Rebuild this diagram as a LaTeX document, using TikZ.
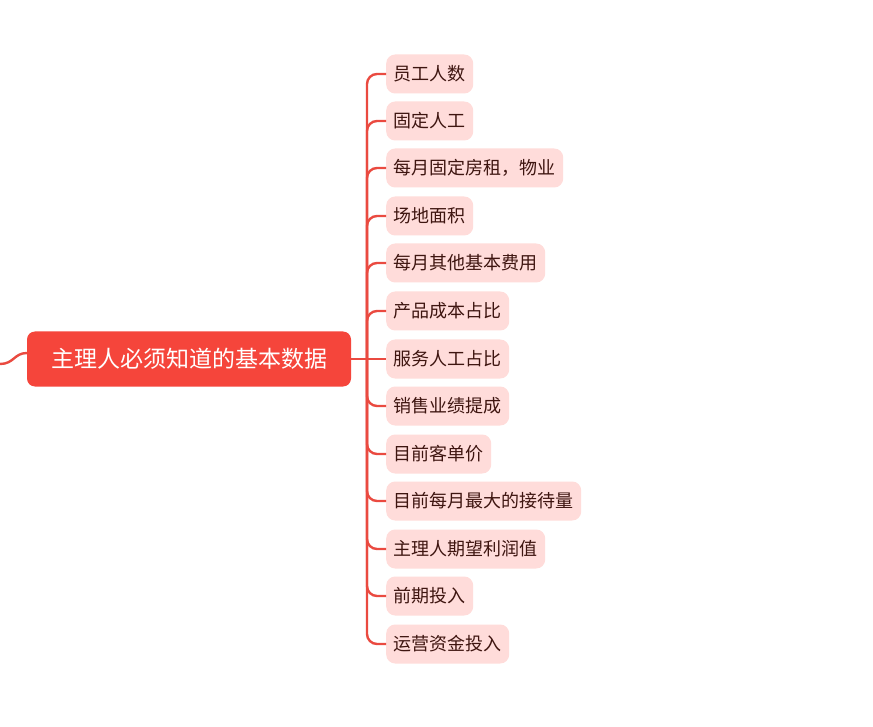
\documentclass[tikz,border=0pt]{standalone}
\usepackage{fontspec}
\setmainfont{Noto Sans CJK SC}
\definecolor{mainred}{HTML}{F5453B}
\definecolor{linered}{HTML}{EA4A40}
\definecolor{childfill}{HTML}{FFDCDA}
\definecolor{childtext}{HTML}{3E1510}
\begin{document}
\begin{tikzpicture}[x={(1pt,0)},y={(0,-1pt)},
  mainbox/.style={fill=mainred,text=white,rounded corners=8pt,minimum width=324pt,minimum height=55pt,inner sep=0pt,font=\fontsize{23}{26}\selectfont},
  childbox/.style={fill=childfill,text=childtext,rounded corners=9pt,minimum height=39pt,inner xsep=7.5pt,inner ysep=0pt,anchor=west,font=\fontsize{18}{20}\selectfont},
  conn/.style={draw=linered,line width=2.4pt,rounded corners=10pt}]
\useasboundingbox (0,0) rectangle (873,727);
\fill[white] (0,0) rectangle (873,727);
\node[mainbox] (main) at (189,359) {主理人必须知道的基本数据};
\coordinate (lft) at (0,364);
\coordinate (mw) at (27,353);
\draw[draw=linered,line width=2.4pt] (lft) .. controls (14,364) and (14,353) .. (mw);
\coordinate (trunk) at (367,359);
\node[childbox] (c1) at (386,74) {员工人数};
\node[childbox] (c2) at (386,121) {固定人工};
\node[childbox] (c3) at (386,168) {每月固定房租，物业};
\node[childbox] (c4) at (386,216) {场地面积};
\node[childbox] (c5) at (386,263) {每月其他基本费用};
\node[childbox] (c6) at (386,311) {产品成本占比};
\node[childbox] (c7) at (386,359) {服务人工占比};
\node[childbox] (c8) at (386,406) {销售业绩提成};
\node[childbox] (c9) at (386,454) {目前客单价};
\node[childbox] (c10) at (386,501) {目前每月最大的接待量};
\node[childbox] (c11) at (386,549) {主理人期望利润值};
\node[childbox] (c12) at (386,596) {前期投入};
\node[childbox] (c13) at (386,644) {运营资金投入};
\draw[conn] (main.east) -- (c7.west);
\foreach \i in {1,...,6,8,9,10,11,12,13} {
  \draw[conn] (trunk) |- (c\i.west);
}
\end{tikzpicture}
\end{document}
